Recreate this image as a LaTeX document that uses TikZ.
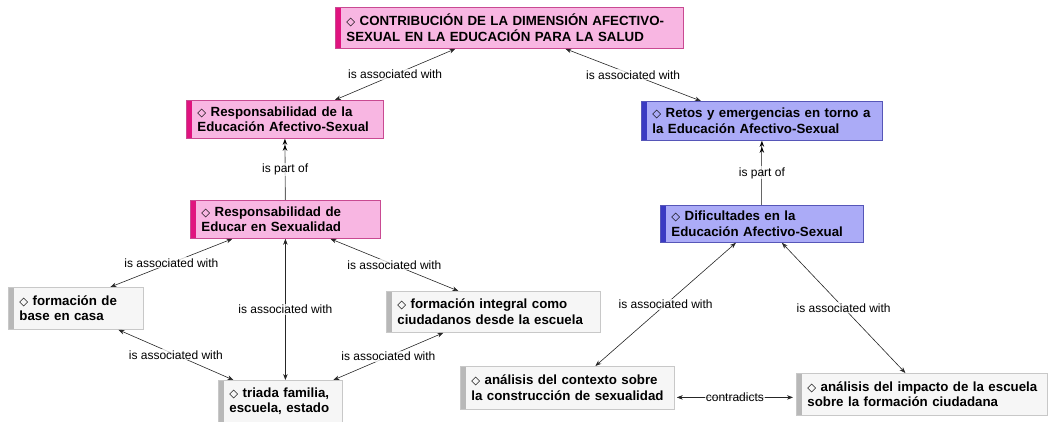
\documentclass[tikz,border=0pt]{standalone}
\usepackage{fontspec}
\setmainfont{Liberation Sans}
\newfontfamily\symfont{DejaVu Sans}
\usetikzlibrary{arrows.meta}
\definecolor{pinkfill}{HTML}{F8B6E2}
\definecolor{pinkdraw}{HTML}{C94A92}
\definecolor{pinkbar}{HTML}{E0137F}
\definecolor{bluefill}{HTML}{ABABF7}
\definecolor{bluedraw}{HTML}{5656B8}
\definecolor{bluebar}{HTML}{3A3AC2}
\definecolor{grayfill}{HTML}{F6F6F6}
\definecolor{graydraw}{HTML}{C8C8C8}
\definecolor{graybar}{HTML}{B8B8B8}
\newcommand{\dia}{{\symfont\fontseries{m}\fontsize{11.5}{13}\selectfont ◇}}
\newcommand{\twolines}[2]{\mbox{\dia\ #1}\\\mbox{#2}}
\tikzset{
  cbox/.style n args={4}{draw=#2, fill=#1, line width=0.8pt, anchor=north west,
    minimum width=#4, text width=#4-22pt, inner xsep=11pt, inner ysep=3pt, align=left,
    font=\bfseries\fontsize{13.3}{15.5}\selectfont, minimum height=40pt,
    path picture={\fill[#3] (path picture bounding box.north west) rectangle ([xshift=6pt]path picture bounding box.south west);}},
  pinkbox/.style={cbox={pinkfill}{pinkdraw}{pinkbar}{#1}},
  bluebox/.style={cbox={bluefill}{bluedraw}{bluebar}{#1}},
  graybox/.style={cbox={grayfill}{graydraw}{graybar}{#1}},
  lbl/.style={fill=white, fill opacity=0.75, text opacity=1, inner sep=1pt, font=\fontsize{12}{13}\selectfont},
  assoc/.style={draw=black!85, line width=0.6pt, {Stealth[length=6pt,width=4.5pt]}-{Stealth[length=6pt,width=4.5pt]}},
  partof/.style={draw=black!60, line width=0.9pt, -{Stealth[length=6pt,width=4.5pt,black]Stealth[length=6pt,width=4.5pt,black]}},
}
\begin{document}
\begin{tikzpicture}[x=1pt,y=-1pt]
\useasboundingbox (0,0) rectangle (1050,422);
\node[pinkbox=348pt, minimum height=41pt] (top) at (335,7) {\twolines{CONTRIBUCIÓN DE LA DIMENSIÓN AFECTIVO-}{SEXUAL EN LA EDUCACIÓN PARA LA SALUD}};
\node[pinkbox=197pt, minimum height=38pt] (respla) at (186,100) {\twolines{Responsabilidad de la}{Educación Afectivo-Sexual}};
\node[pinkbox=190pt, minimum height=38pt] (reseduc) at (190,200) {\twolines{Responsabilidad de}{Educar en Sexualidad}};
\node[bluebox=241pt, minimum height=39pt] (retos) at (641,101) {\twolines{Retos y emergencias en torno a}{la Educación Afectivo-Sexual}};
\node[bluebox=203pt, minimum height=37pt] (dific) at (660,205) {\twolines{Dificultades en la}{Educación Afectivo-Sexual}};
\node[graybox=135pt, minimum height=42pt] (base) at (8,287) {\twolines{formación de}{base en casa}};
\node[graybox=214pt, minimum height=41pt] (integral) at (386,291) {\twolines{formación integral como}{ciudadanos desde la escuela}};
\node[graybox=124pt, minimum height=42pt] (triada) at (218,380) {\twolines{triada familia,}{escuela, estado}};
\node[graybox=214pt, minimum height=43pt] (contexto) at (460,366) {\twolines{análisis del contexto sobre}{la construcción de sexualidad}};
\node[graybox=251pt, minimum height=42pt] (impacto) at (796,373) {\twolines{análisis del impacto de la escuela}{sobre la formación ciudadana}};

\draw[assoc] ([xshift=-54pt]top.south) -- node[lbl]{is associated with} ([xshift=50pt]respla.north);
\draw[assoc] ([xshift=56pt]top.south) -- node[lbl]{is associated with} ([xshift=-61pt]retos.north);
\draw[partof] (reseduc.north) -- node[lbl]{is part of} (respla.south);
\draw[partof] (dific.north) -- node[lbl]{is part of} (retos.south);
\draw[assoc] ([xshift=-53pt]reseduc.south) -- node[lbl]{is associated with} ([xshift=34.5pt]base.north);
\draw[assoc] (reseduc.south) -- node[lbl]{is associated with} ([xshift=5pt]triada.north);
\draw[assoc] ([xshift=45pt]reseduc.south) -- node[lbl]{is associated with} ([xshift=-35pt]integral.north);
\draw[assoc] ([xshift=42.5pt]base.south) -- node[lbl]{is associated with} ([xshift=-47pt]triada.north);
\draw[assoc] ([xshift=-50pt]integral.south) -- node[lbl]{is associated with} ([xshift=53pt]triada.north);
\draw[assoc] ([xshift=-26pt]dific.south) -- node[lbl]{is associated with} ([xshift=28pt]contexto.north);
\draw[assoc] ([xshift=20pt]dific.south) -- node[lbl]{is associated with} ([xshift=-16.5pt]impacto.north);
\draw[assoc] ([xshift=2pt,yshift=-9.5pt]contexto.east) -- node[lbl]{contradicts} ([xshift=-3pt,yshift=-9.5pt]contexto.east -| impacto.west);
\end{tikzpicture}
\end{document}
